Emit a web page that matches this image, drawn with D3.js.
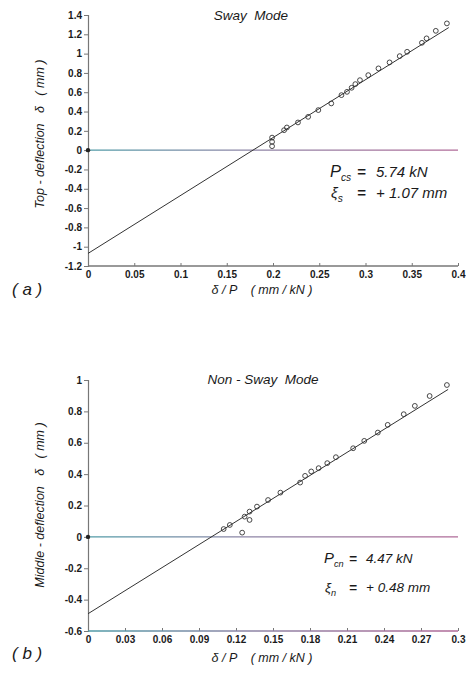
<!DOCTYPE html>
<html>
<head>
<meta charset="utf-8">
<script src="https://cdn.jsdelivr.net/npm/d3@7"></script>
<style>
  html, body { margin: 0; padding: 0; background: #fff; }
  svg { display: block; }
  text { font-family: "Liberation Sans", Arial, sans-serif; fill: #1a1a1a; }
</style>
</head>
<body>
<svg id="chart" width="466" height="673"></svg>
<script>
// ---------- Data ----------
// Panel (a) Sway mode
const swayX = [0.199, 0.199, 0.199, 0.212, 0.215, 0.227, 0.238, 0.249, 0.263, 0.274, 0.280, 0.285, 0.289, 0.294, 0.303, 0.314, 0.326, 0.337, 0.345, 0.361, 0.366, 0.376, 0.388];
const swayY = [0.13, 0.086, 0.041, 0.207, 0.235, 0.287, 0.345, 0.415, 0.484, 0.57, 0.604, 0.646, 0.684, 0.725, 0.777, 0.847, 0.909, 0.974, 1.019, 1.112, 1.158, 1.236, 1.313];
const swayFitX = [0, 0.39];
const swayFitY = [-1.07, 1.27];
const swayXTicks = [0, 0.05, 0.1, 0.15, 0.2, 0.25, 0.3, 0.35, 0.4];
const swayXTickLabels = ["0", "0.05", "0.1", "0.15", "0.2", "0.25", "0.3", "0.35", "0.4"];
const swayYTicks = [1.4, 1.2, 1, 0.8, 0.6, 0.4, 0.2, 0, -0.2, -0.4, -0.6, -0.8, -1, -1.2];
const swayYTickLabels = ["1.4", "1.2", "1", "0.8", "0.6", "0.4", "0.2", "0", "-0.2", "-0.4", "-0.6", "-0.8", "-1", "-1.2"];

// Panel (b) Non-sway mode
const nonSwayX = [0.110, 0.115, 0.125, 0.127, 0.131, 0.131, 0.137, 0.146, 0.156, 0.172, 0.176, 0.181, 0.187, 0.194, 0.201, 0.215, 0.224, 0.235, 0.243, 0.256, 0.265, 0.277, 0.291];
const nonSwayY = [0.05, 0.076, 0.027, 0.129, 0.161, 0.108, 0.193, 0.235, 0.282, 0.346, 0.389, 0.417, 0.438, 0.47, 0.508, 0.565, 0.612, 0.665, 0.714, 0.782, 0.835, 0.898, 0.968];
const nonSwayFitX = [0, 0.292];
const nonSwayFitY = [-0.49, 0.94];
const nonSwayXTicks = [0, 0.03, 0.06, 0.09, 0.12, 0.15, 0.18, 0.21, 0.24, 0.27, 0.3];
const nonSwayXTickLabels = ["0", "0.03", "0.06", "0.09", "0.12", "0.15", "0.18", "0.21", "0.24", "0.27", "0.3"];
const nonSwayYTicks = [1, 0.8, 0.6, 0.4, 0.2, 0, -0.2, -0.4, -0.6];
const nonSwayYTickLabels = ["1", "0.8", "0.6", "0.4", "0.2", "0", "-0.2", "-0.4", "-0.6"];

// ---------- Drawing ----------
const svg = d3.select("#chart");
const defs = svg.append("defs");
const grad = defs.append("linearGradient").attr("id", "zeroGrad")
  .attr("gradientUnits", "userSpaceOnUse")
  .attr("x1", 88).attr("x2", 458).attr("y1", 0).attr("y2", 0);
grad.append("stop").attr("offset", "0%").attr("stop-color", "#4f9aa6");
grad.append("stop").attr("offset", "40%").attr("stop-color", "#8a86a6");
grad.append("stop").attr("offset", "100%").attr("stop-color", "#b06a98");

function panel(cfg) {
  const x = d3.scaleLinear().domain(cfg.xDomain).range([88, 458]);
  const y = d3.scaleLinear().domain(cfg.yDomain).range([cfg.bottom, cfg.top]);
  const g = svg.append("g");

  // y axis
  const yAxis = d3.axisLeft(y).tickValues(cfg.yTicks)
    .tickFormat((d, i) => cfg.yLabels[i]).tickSize(4).tickPadding(2);
  const gy = g.append("g").attr("transform", "translate(88,0)").call(yAxis);
  gy.select(".domain").attr("stroke", "#777").attr("stroke-width", 1.2);
  gy.selectAll(".tick line").attr("stroke", "#777");
  gy.selectAll(".tick text").attr("font-size", 10).attr("font-weight", "bold")
    .attr("font-family", "Liberation Sans, Arial, sans-serif").attr("fill", "#222");

  // x axis
  const xAxis = d3.axisBottom(x).tickValues(cfg.xTicks)
    .tickFormat((d, i) => cfg.xLabels[i]).tickSizeInner(-3).tickSizeOuter(0).tickPadding(5);
  const gx = g.append("g").attr("transform", `translate(0,${cfg.bottom})`).call(xAxis);
  gx.select(".domain").remove();
  gx.selectAll(".tick line").attr("stroke", "#777");
  gx.selectAll(".tick text").attr("font-size", 10).attr("font-weight", "bold")
    .attr("font-family", "Liberation Sans, Arial, sans-serif").attr("fill", "#222");
  g.append("line")
    .attr("x1", x(cfg.xDomain[0])).attr("x2", x(cfg.xDomain[1]))
    .attr("y1", cfg.bottom).attr("y2", cfg.bottom)
    .attr("stroke", cfg.bottomColored ? "url(#zeroGrad)" : "#777").attr("stroke-width", 1.3);

  // zero line
  g.append("line")
    .attr("x1", x(cfg.xDomain[0])).attr("x2", x(cfg.xDomain[1]))
    .attr("y1", y(0)).attr("y2", y(0))
    .attr("stroke", "url(#zeroGrad)").attr("stroke-width", 1.3);
  // dot at origin
  g.append("circle").attr("cx", x(0)).attr("cy", y(0)).attr("r", 2.2).attr("fill", "#222");

  // fit line
  const line = d3.line().x(d => x(d[0])).y(d => y(d[1]));
  g.append("path").datum(cfg.fitX.map((v, i) => [v, cfg.fitY[i]]))
    .attr("d", line).attr("fill", "none").attr("stroke", "#333").attr("stroke-width", 1);

  // points
  g.selectAll("circle.pt").data(cfg.px.map((v, i) => [v, cfg.py[i]])).enter()
    .append("circle").attr("class", "pt")
    .attr("cx", d => x(d[0])).attr("cy", d => y(d[1])).attr("r", 2.4)
    .attr("fill", "none").attr("stroke", "#333").attr("stroke-width", 0.9);

  // title
  g.append("text").attr("x", cfg.titleX).attr("y", cfg.titleY)
    .attr("text-anchor", "middle").attr("font-size", 13.5).attr("font-style", "italic")
    .style("white-space", "pre").text(cfg.title);

  // y label
  g.append("text").attr("transform", `translate(${cfg.yLabelX},${cfg.yLabelY}) rotate(-90)`)
    .attr("text-anchor", "middle").attr("font-size", 12.5).attr("font-style", "italic")
    .style("white-space", "pre").text(cfg.yLabel);

  // x label
  g.append("text").attr("x", 262).attr("y", cfg.xLabelY)
    .attr("text-anchor", "middle").attr("font-size", 12.5).attr("font-style", "italic")
    .style("white-space", "pre").text("δ / P    ( mm / kN )");

  // panel letter
  g.append("text").attr("x", 12).attr("y", cfg.letterY)
    .attr("font-size", 17).attr("font-style", "italic")
    .style("white-space", "pre").text(cfg.letter);

  // annotations
  const ann = g.append("g").attr("font-style", "italic").attr("font-size", cfg.annSize);
  const t1 = ann.append("text").attr("x", cfg.annX).attr("y", cfg.annY1);
  t1.append("tspan").attr("font-size", cfg.annSize * 1.1).text("P");
  t1.append("tspan").attr("font-size", cfg.annSize * 0.68).attr("dy", 4).text(cfg.sub1);
  ann.append("text").attr("x", cfg.eqX).attr("y", cfg.annY1).attr("font-weight", "bold").text("=");
  ann.append("text").attr("x", cfg.valX).attr("y", cfg.annY1).text(cfg.val1);
  const t2 = ann.append("text").attr("x", cfg.annX + 1).attr("y", cfg.annY2);
  t2.append("tspan").text("ξ");
  t2.append("tspan").attr("font-size", cfg.annSize * 0.68).attr("dy", 4).text(cfg.sub2);
  ann.append("text").attr("x", cfg.eqX).attr("y", cfg.annY2).attr("font-weight", "bold").text("=");
  ann.append("text").attr("x", cfg.valX).attr("y", cfg.annY2).style("white-space", "pre").text(cfg.val2);
}

panel({
  xDomain: [0, 0.4], yDomain: [-1.2, 1.4], top: 15, bottom: 266,
  xTicks: swayXTicks, xLabels: swayXTickLabels, yTicks: swayYTicks, yLabels: swayYTickLabels,
  px: swayX, py: swayY, fitX: swayFitX, fitY: swayFitY,
  title: "Sway  Mode", titleX: 251, titleY: 20,
  yLabel: "Top - deflection   δ   ( mm )", yLabelX: 44, yLabelY: 134,
  xLabelY: 294, letter: "( a )", letterY: 295, bottomColored: false,
  annSize: 15, annX: 330, eqX: 357, valX: 376, annY1: 177, annY2: 198,
  sub1: "cs", sub2: "s", val1: "5.74 kN", val2: "+ 1.07 mm"
});

panel({
  xDomain: [0, 0.3], yDomain: [-0.6, 1], top: 380, bottom: 631,
  xTicks: nonSwayXTicks, xLabels: nonSwayXTickLabels, yTicks: nonSwayYTicks, yLabels: nonSwayYTickLabels,
  px: nonSwayX, py: nonSwayY, fitX: nonSwayFitX, fitY: nonSwayFitY,
  title: "Non - Sway  Mode", titleX: 263, titleY: 384,
  yLabel: "Middle - deflection   δ   ( mm )", yLabelX: 44, yLabelY: 505,
  xLabelY: 662, letter: "( b )", letterY: 659, bottomColored: true,
  annSize: 13.5, annX: 324, eqX: 349, valX: 366, annY1: 563, annY2: 592,
  sub1: "cn", sub2: "n", val1: "4.47 kN", val2: "+ 0.48 mm"
});
</script>
</body>
</html>
